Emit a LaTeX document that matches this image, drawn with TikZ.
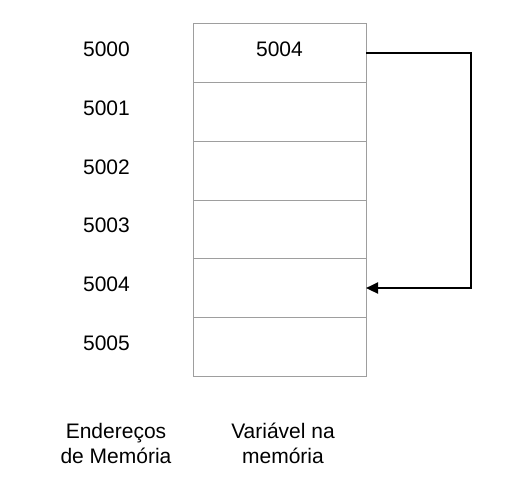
\documentclass[tikz,border=0pt]{standalone}
\usepackage{fontspec}
\setmainfont{Liberation Sans}
\usetikzlibrary{arrows.meta}
\begin{document}
\begin{tikzpicture}[x=1pt,y=-1pt,
  cell/.style={draw=black!38,line width=1pt,minimum width=173pt,minimum height=58.7pt,inner sep=0pt,outer sep=0pt},
  txt/.style={font=\fontsize{21}{25}\selectfont,inner sep=0pt},
  caption label/.style={font=\fontsize{21}{25.7}\selectfont,align=center,inner sep=0pt},
  ptr/.style={line width=2pt,-{Triangle[length=12pt,width=11pt]}}]
\useasboundingbox[fill=white] (0,0) rectangle (512,492);
\foreach \i in {0,...,5}{
  \node[cell] (c\i) at (279.5,{53.35+58.67*\i}) {};
}
\node[txt] (v0) at (279.5,49) {5004};
\foreach \i in {0,...,5}{
  \node[txt] (a\i) at (106.5,{49.5+58.67*\i}) {500\i};
}
\node[caption label] (l1) at (116,443.5) {Endereços\\de Memória};
\node[caption label] (l2) at (283,443.5) {Variável na\\memória};
\coordinate (turn) at (471,52.7);
\draw[ptr] (c0.east |- 0,52.7) -- (turn) |- (c4.east);
\end{tikzpicture}
\end{document}
